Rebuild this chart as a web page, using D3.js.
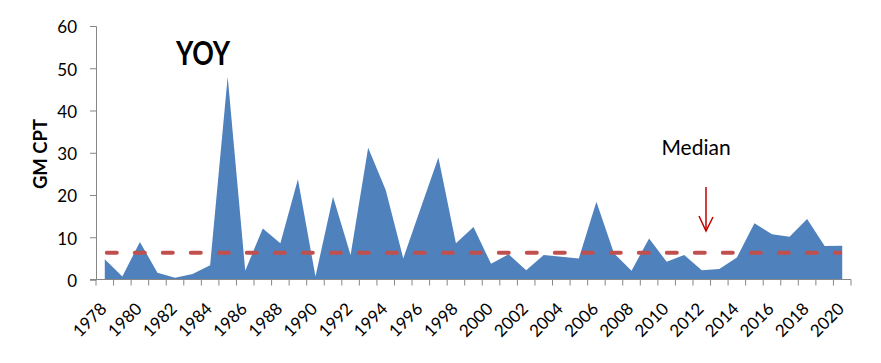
<!DOCTYPE html>
<html>
<head>
<meta charset="utf-8">
<script src="https://cdn.jsdelivr.net/npm/d3@7"></script>
<style>
  body { margin: 0; background: #fff; }
  text { font-family: Lato, "Open Sans", sans-serif; fill: #000; }
</style>
</head>
<body>
<svg width="881" height="363"></svg>
<script>
// data
const years = d3.range(1978, 2021);
const yoy = [4.8, 0.7, 8.9, 1.6, 0.4, 1.3, 3.4, 48, 2.1, 12.1,
  8.6, 23.7, 0.7, 19.6, 5.8, 31.2, 21.2, 5.0, 17.0, 28.9,
  8.6, 12.4, 3.7, 6.0, 2.2, 5.8, 5.4, 5.0, 18.4, 6.2,
  2.1, 9.7, 4.2, 5.8, 2.2, 2.5, 5.2, 13.3, 10.7, 10.1,
  14.3, 7.9, 8.0];
const median = 6.35;
const yTicks = [0, 10, 20, 30, 40, 50, 60];
const labelYears = years.filter(d => d % 2 === 0);

let svg = d3.select("svg");

// scales
const x = d3.scaleBand().domain(years).range([96, 851]).padding(0);
const y = d3.scaleLinear().domain([0, 60]).range([279.5, 26]);
const cx = d => x(d) + x.bandwidth() / 2;

const data = years.map((yr, i) => ({ year: yr, v: yoy[i] }));

// area
const area = d3.area()
  .x(d => cx(d.year))
  .y0(y(0))
  .y1(d => y(d.v));

svg.append("path")
  .datum(data)
  .attr("d", area)
  .attr("fill", "#4F81BD");

// median dashed line
svg.append("line")
  .attr("x1", cx(years[0]) + 2)
  .attr("x2", cx(years[years.length - 1]) - 2)
  .attr("y1", y(median))
  .attr("y2", y(median))
  .attr("stroke", "#C0504D")
  .attr("stroke-width", 4)
  .attr("stroke-linecap", "round")
  .attr("stroke-dasharray", "10,18");

// y axis
const yAxis = svg.append("g")
  .attr("transform", "translate(96,0)")
  .call(d3.axisLeft(y).tickValues(yTicks).tickSize(6).tickPadding(13));
yAxis.select(".domain").attr("stroke", "#868686");
yAxis.selectAll(".tick line").attr("stroke", "#868686");
yAxis.selectAll(".tick text").style("font-size", "17px").attr("dy", "0.4em");

// x axis: line + ticks at band edges
svg.append("line")
  .attr("x1", 90).attr("x2", 851)
  .attr("y1", y(0)).attr("y2", y(0))
  .attr("stroke", "#868686");

const edges = years.map(d => x(d)).concat([x.range()[1]]);
svg.append("g")
  .selectAll("line")
  .data(edges)
  .enter()
  .append("line")
  .attr("x1", d => d).attr("x2", d => d)
  .attr("y1", y(0)).attr("y2", y(0) + 6)
  .attr("stroke", "#868686");

// x labels, rotated
svg.append("g")
  .selectAll("text")
  .data(labelYears)
  .enter()
  .append("text")
  .attr("transform", d => "translate(" + (cx(d) + 3) + ",310) rotate(-45)")
  .attr("text-anchor", "end")
  .style("font-size", "17px")
  .text(d => d);

// y title
svg.append("text")
  .attr("transform", "translate(46.5,154) rotate(-90)")
  .attr("text-anchor", "middle")
  .style("font-size", "18.5px")
  .style("font-weight", "bold")
  .text("GM CPT");

// title
svg.append("text")
  .attr("x", 176)
  .attr("y", 65)
  .attr("textLength", 54)
  .attr("lengthAdjust", "spacingAndGlyphs")
  .style("font-size", "32px")
  .style("font-weight", "bold")
  .text("YOY");

// median label + arrow
svg.append("text")
  .attr("x", 696)
  .attr("y", 155)
  .attr("text-anchor", "middle")
  .style("font-size", "21px")
  .text("Median");

const ax = 706;
svg.append("line")
  .attr("x1", ax).attr("x2", ax)
  .attr("y1", 187).attr("y2", 231)
  .attr("stroke", "#C00000")
  .attr("stroke-width", 1.5);
svg.append("path")
  .attr("d", "M" + (ax - 7) + ",216 L" + ax + ",231 L" + (ax + 7) + ",217")
  .attr("fill", "none")
  .attr("stroke", "#C00000")
  .attr("stroke-width", 1.5);
</script>
</body>
</html>
